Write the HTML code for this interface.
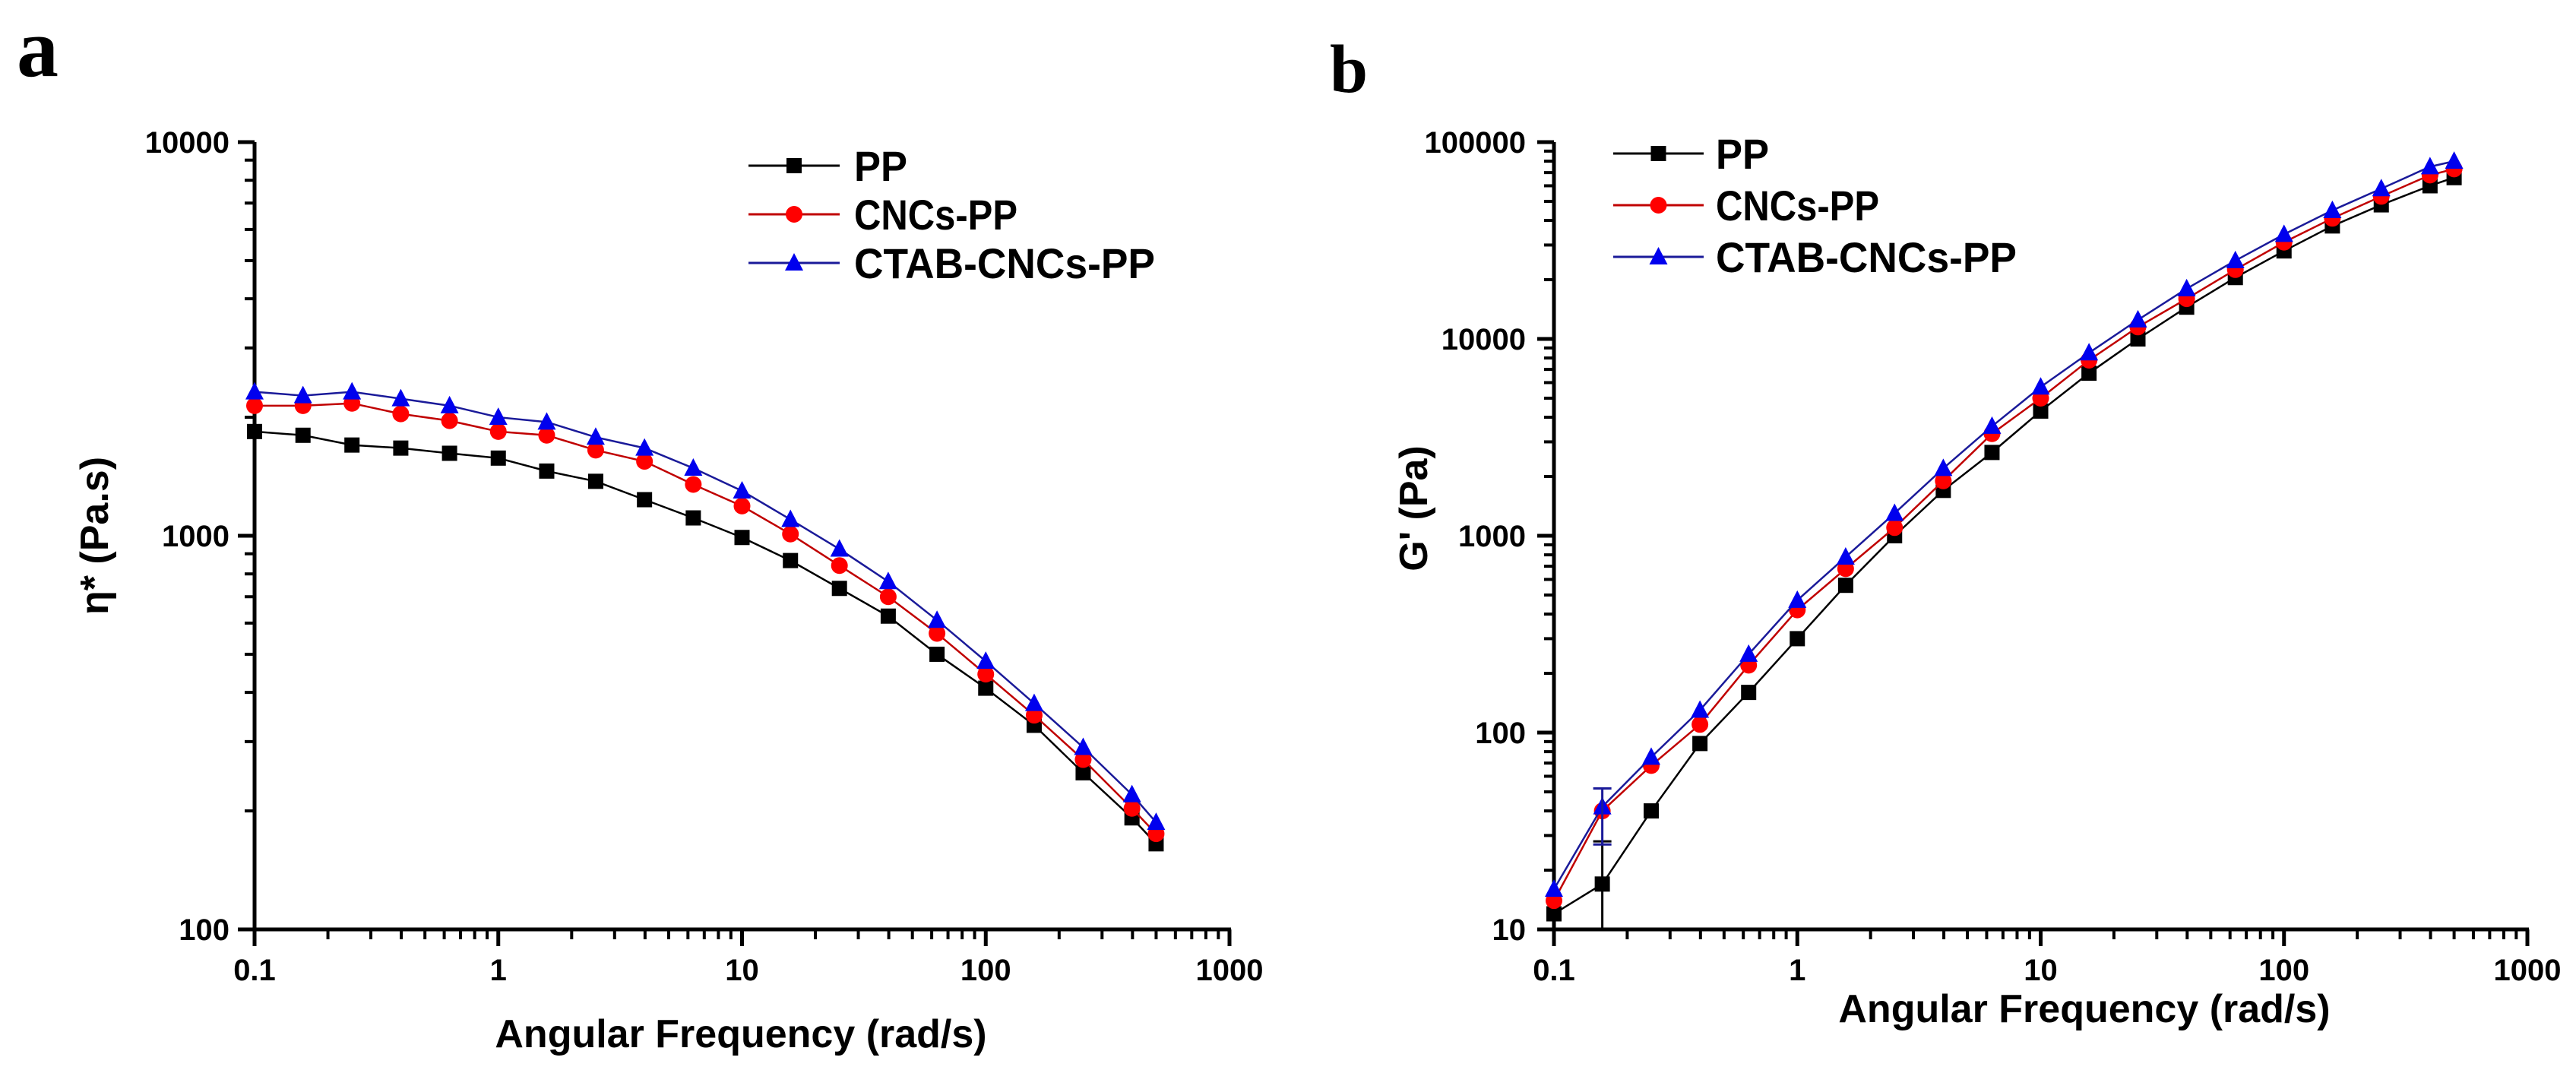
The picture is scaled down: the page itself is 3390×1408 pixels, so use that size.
<!DOCTYPE html>
<html><head><meta charset="utf-8"><style>
body{margin:0;background:#fff;}
svg{display:block;font-family:"Liberation Sans",Arial,sans-serif;}
</style></head><body>
<svg id="c" width="3390" height="1408" viewBox="0 0 3390 1408"></svg>
<script>
const freq=[0.1,0.158,0.251,0.398,0.631,1,1.58,2.51,3.98,6.31,10,15.8,25.1,39.8,63.1,100,158,251,398,500];
const etaPP=[1840,1800,1700,1670,1620,1575,1460,1375,1235,1110,990,865,735,625,500,410,330,250,192,165];
const etaCNC=[2140,2140,2170,2040,1960,1840,1800,1650,1545,1350,1190,1010,840,700,565,445,350,270,203,175];
const etaCTAB=[2320,2270,2320,2230,2140,2000,1945,1780,1670,1485,1300,1100,925,765,610,480,375,290,220,187];
const gPP=[12,17,40,88,160,300,560,1000,1700,2650,4300,6700,10000,14500,20500,28000,37500,48000,60000,66000];
const gCNC=[14,40,68,110,220,420,680,1100,1900,3300,5000,7800,11500,16000,22500,31000,41000,53000,68000,73000];
const gCTAB=[16,42,75,130,250,470,780,1300,2200,3600,5700,8500,12500,18000,25000,34000,45000,58000,75000,80000];
const xTicks=["0.1","1","10","100","1000"];
const etaTicks=["100","1000","10000"];
const gTicks=["10","100","1000","10000","100000"];
const seriesNames=["PP","CNCs-PP","CTAB-CNCs-PP"];

const NS="http://www.w3.org/2000/svg";
const svg=document.getElementById('c');
function mk(tag,at,parent,txt){const e=document.createElementNS(NS,tag);for(const k in at)e.setAttribute(k,at[k]);if(txt!==undefined)e.textContent=txt;(parent||svg).appendChild(e);return e;}
const colors=[["#000","#000"],["#c00000","#ff0000"],["#1a1a99","#0000ee"]];
function marker(g,k,x,y,s){
  let e;
  if(k===0){e=mk('rect',{x:x-s/2,y:y-s/2,width:s,height:s,fill:'#000'},g);}
  else if(k===1){e=mk('circle',{cx:x,cy:y,r:s/2+1,fill:'#ff0000'},g);}
  else {e=mk('polygon',{points:`${x},${y-s/2-3} ${x-s/2-2},${y+s/2} ${x+s/2+2},${y+s/2}`,fill:'#0000ee'},g);}
  return e;
}
const legW=[70,215,396];
function panel(opt){
  const {x0,x1,y0,y1,ymin,ymax,yTicks,series,name,ylabel,ylabelX,ylabelY,titleX,titleY,leg,tickRight}=opt;
  const g=mk('g',{});
  
  
  const xs=v=>x0+(Math.log10(v)-(-1))/(3-(-1))*(x1-x0);
  const ys=v=>y1-(Math.log10(v)-Math.log10(ymin))/(Math.log10(ymax)-Math.log10(ymin))*(y1-y0);
  const ax=mk('g',{stroke:'#000','stroke-width':5},g);
  
  
  mk('line',{x1:x0,y1:y0,x2:x0,y2:y1+2},ax);
  mk('line',{x1:x0-2,y1:y1,x2:x1+2,y2:y1},ax);
  for(let d=-1;d<=3;d++){
    const X=xs(Math.pow(10,d));
    mk('line',{x1:X,y1:y1,x2:X,y2:y1+22},ax);
    if(d<3)for(let m=2;m<=9;m++){const Xm=xs(m*Math.pow(10,d));mk('line',{x1:Xm,y1:y1,x2:Xm,y2:y1+13,'stroke-width':4},ax);}
  }
  xTicks.forEach((t,i)=>{const tx=mk('text',{x:xs(Math.pow(10,i-1)),y:1290,'font-size':40,'font-weight':'bold','text-anchor':'middle',fill:'#000'},g,t);
    
    });
  const lmin=Math.log10(ymin),lmax=Math.log10(ymax);
  for(let d=lmin;d<=lmax;d++){
    const Y=ys(Math.pow(10,d));
    mk('line',{x1:x0-22,y1:Y,x2:x0,y2:Y},ax);
    if(d<lmax)for(let m=2;m<=9;m++){const Ym=ys(m*Math.pow(10,d));mk('line',{x1:x0-13,y1:Ym,x2:x0,y2:Ym,'stroke-width':4},ax);}
  }
  yTicks.forEach((t,i)=>{const ty=mk('text',{x:tickRight,y:ys(Math.pow(10,lmin+i))+14,'font-size':40,'font-weight':'bold','text-anchor':'end',fill:'#000'},g,t);
    
    });
  const xt=mk('text',{x:titleX,y:titleY,'font-size':52,'font-weight':'bold','text-anchor':'middle',fill:'#000'},g,'Angular Frequency (rad/s)');
  
  
  const yt=mk('text',{x:0,y:0,transform:`translate(${ylabelX},${ylabelY}) rotate(-90)`,'font-size':52,'font-weight':'bold','text-anchor':'middle',fill:'#000'},g,ylabel);
  
  
  series.forEach((vals,k)=>{
    const sg=mk('g',{},g);
    
    
    const pts=vals.map((v,i)=>xs(freq[i])+','+ys(v)).join(' ');
    mk('polyline',{points:pts,fill:'none',stroke:colors[k][0],'stroke-width':2.5},sg);
    vals.forEach((v,i)=>{const m=marker(sg,k,xs(freq[i]),ys(v),20);
      
      });
  });
  const lg=mk('g',{},g);
  
  
  seriesNames.forEach((n,k)=>{
    const Y=leg.y+k*leg.dy;
    const le=mk('g',{},lg);
    
    
    mk('line',{x1:leg.x1,y1:Y,x2:leg.x2,y2:Y,stroke:colors[k][0],'stroke-width':3},le);
    marker(le,k,(leg.x1+leg.x2)/2,Y,20);
    mk('text',{x:leg.tx,y:Y+20,'font-size':56,'font-weight':'bold',fill:'#000',textLength:legW[k],lengthAdjust:'spacingAndGlyphs'},le,n);
  });
  return {xs,ys,g};
}
const A=panel({x0:335,x1:1618,y0:187,y1:1223,ymin:100,ymax:10000,yTicks:etaTicks,series:[etaPP,etaCNC,etaCTAB],name:'panel-a-viscosity-chart',ylabel:'η* (Pa.s)',ylabelX:142,ylabelY:705,titleX:975,titleY:1378,tickRight:302,leg:{x1:985,x2:1105,tx:1124,y:218,dy:64}});
const B=panel({x0:2045,x1:3326,y0:187,y1:1223,ymin:10,ymax:100000,yTicks:gTicks,series:[gPP,gCNC,gCTAB],name:'panel-b-storage-modulus-chart',ylabel:"G' (Pa)",ylabelX:1878,ylabelY:669,titleX:2743,titleY:1345,tickRight:2008,leg:{x1:2123,x2:2242,tx:2258,y:202,dy:68}});
[[gPP,10,28,'#000'],[gCTAB,27,52,'#1a1a99']].forEach(([s,lo,hi,c])=>{
  const X=B.xs(freq[1]);
  const e=mk('g',{stroke:c,'stroke-width':3},B.g);
  
  
  mk('line',{x1:X,y1:B.ys(lo),x2:X,y2:B.ys(hi)},e);
  mk('line',{x1:X-12,y1:B.ys(hi),x2:X+12,y2:B.ys(hi)},e);
  mk('line',{x1:X-12,y1:B.ys(lo),x2:X+12,y2:B.ys(lo)},e);
});
const la=mk('text',{x:22,y:100,'font-size':110,'font-weight':'bold','font-family':'"Liberation Serif",serif',fill:'#000'},svg,'a');


const lb=mk('text',{x:1750,y:121,'font-size':90,'font-weight':'bold','font-family':'"Liberation Serif",serif',fill:'#000'},svg,'b');


</script>
</body></html>
